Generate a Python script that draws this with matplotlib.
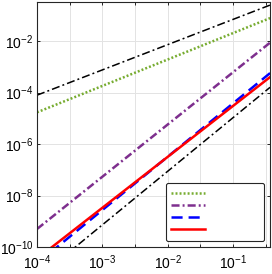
import numpy as np
import matplotlib
matplotlib.use("Agg")
import matplotlib.pyplot as plt
from matplotlib.ticker import FixedLocator, LogFormatterSciNotation, NullFormatter

plt.rcParams['font.family'] = ['Liberation Sans', 'DejaVu Sans']
plt.rcParams['mathtext.fontset'] = 'custom'
plt.rcParams['mathtext.rm'] = 'Liberation Sans'
plt.rcParams['mathtext.it'] = 'Liberation Sans:italic'
plt.rcParams['mathtext.default'] = 'regular'
plt.rcParams['lines.scale_dashes'] = False

# values (log-log straight lines, end points)
x_ends = [1e-4, 0.37]
ref_upper = [7.9e-5, 0.25]
green_y = [1.7e-5, 0.078]
purple_y = [5.0e-10, 8.7e-3]
blue_y = [2.3e-11, 5.7e-4]
red_y = [3.5e-11, 4.0e-4]
ref_lower = [6e-12, 1.6e-4]

xmajor = [1e-4, 1e-3, 1e-2, 1e-1]
xminor = [10**-3.5, 10**-2.5, 10**-1.5, 10**-0.5]
ymajor = [1e-10, 1e-8, 1e-6, 1e-4, 1e-2]

fig = plt.figure(figsize=(2.72, 2.74), dpi=100)
ax = fig.add_axes([0.136, 0.0985, 0.857, 0.894])

dashdot = (0, (5.8, 2.2, 1.4, 2.2))
ax.plot(x_ends, ref_upper, color='k', lw=1.1, linestyle=dashdot)
ax.plot(x_ends, ref_lower, color='k', lw=1.1, linestyle=dashdot)
h1, = ax.plot(x_ends, green_y, color='#77AC30', lw=1.8, linestyle=(0, (1.4, 1.5)))
h2, = ax.plot(x_ends, purple_y, color='#7E2F8E', lw=1.8, linestyle=(0, (5.8, 2.2, 1.4, 2.2)))
h3, = ax.plot(x_ends, blue_y, color='#0000FF', lw=1.8, linestyle=(0, (8, 4.3)))
h4, = ax.plot(x_ends, red_y, color='#FF0000', lw=1.8)

ax.set_xscale('log')
ax.set_yscale('log')
ax.set_xlim(1e-4, 0.37)
ax.set_ylim(1e-10, 10**-0.485)

ax.xaxis.set_major_locator(FixedLocator(xmajor))
ax.xaxis.set_minor_locator(FixedLocator(xminor))
ax.xaxis.set_major_formatter(LogFormatterSciNotation())
ax.xaxis.set_minor_formatter(NullFormatter())
ax.yaxis.set_major_locator(FixedLocator(ymajor))
ax.yaxis.set_minor_locator(FixedLocator([]))
ax.yaxis.set_major_formatter(LogFormatterSciNotation())

ax.grid(True, which='both', color='#e3e3e3', lw=0.7)
ax.set_axisbelow(True)
ax.tick_params(which='both', direction='in', top=True, right=True,
               length=2.5, width=0.7, color='#262626', labelsize=10)
ax.tick_params(axis='x', pad=4.5)
ax.tick_params(axis='y', pad=2.5)
for s in ax.spines.values():
    s.set_color('#262626')
    s.set_linewidth(0.8)

# legend entries carry no text in the reference
leg = ax.legend([h1, h2, h3, h4], [' ', ' ', ' ', ' '],
                loc='lower left', bbox_to_anchor=(0.554, 0.0245, 0.42, 0.27),
                mode='expand', borderaxespad=0, fontsize=8, handlelength=3.06,
                handleheight=1.29, labelspacing=0, borderpad=0.45,
                frameon=True, fancybox=True, framealpha=1)
leg.get_frame().set_edgecolor('#262626')
leg.get_frame().set_linewidth(0.8)

fig.savefig('out.png', dpi=100)
